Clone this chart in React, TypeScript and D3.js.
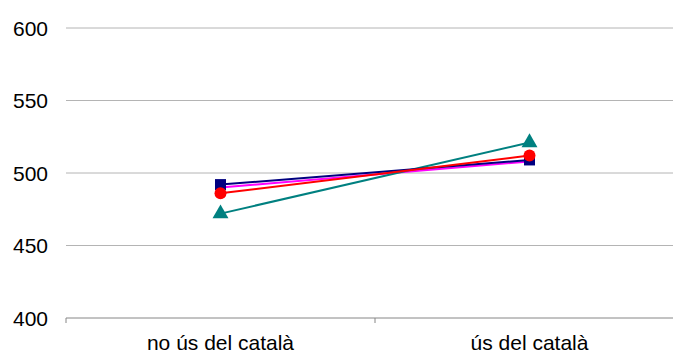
import React from "react";
import * as d3 from "d3";

const categories = ["no ús del català", "ús del català"];
const yTicks = [400, 450, 500, 550, 600];
const seriesNavy = [492, 509];
const seriesMagenta = [490, 508];
const seriesRed = [486, 512];
const seriesTeal = [472, 521];

const W = 673, H = 354;

export default function App() {
  const x = d3.scaleBand<string>().domain(categories).range([66, 684]);
  const y = d3.scaleLinear().domain([400, 600]).range([318, 28]);
  const cx = (c: string) => (x(c) as number) + x.bandwidth() / 2;
  const line = d3.line<number>().x((_, i) => cx(categories[i])).y((d) => y(d));
  const series = [
    { vals: seriesMagenta, color: "#ff00ff", marker: "none" },
    { vals: seriesTeal, color: "#008080", marker: "tri" },
    { vals: seriesNavy, color: "#000080", marker: "sq" },
    { vals: seriesRed, color: "#ff0000", marker: "circ" },
  ];
  const tri = d3.symbol().type(d3.symbolTriangle).size(110)();
  return (
    <svg width={W} height={H} style={{ position: "absolute", left: 0, top: 0 }}
      fontFamily="'Liberation Sans', Arial, sans-serif">
      {yTicks.map((t) => (
        <g key={t}>
          {t !== 400 && <line x1={66} x2={W} y1={y(t)} y2={y(t)} stroke="#b4b4b4" strokeWidth={1} />}
          <text x={48} y={y(t) + 7.5} textAnchor="end" fontSize={21} fill="#000">{t}</text>
        </g>
      ))}
      <line x1={66} x2={W} y1={y(400)} y2={y(400)} stroke="#868686" />
      {[0, 1].map((i) => (
        <line key={i} x1={66 + i * x.bandwidth()} x2={66 + i * x.bandwidth()} y1={y(400)} y2={y(400) + 5} stroke="#868686" />
      ))}
      {categories.map((c) => (
        <text key={c} x={cx(c)} y={350} textAnchor="middle" fontSize={21} fill="#000">{c}</text>
      ))}
      {series.map((s, k) => (
        <g key={k}>
          <path d={line(s.vals) as string} fill="none" stroke={s.color} strokeWidth={2} />
          {s.vals.map((v, i) => {
            const px = cx(categories[i]), py = y(v);
            if (s.marker === "sq") return <rect key={i} x={px - 5.5} y={py - 5.5} width={11} height={11} fill={s.color} />;
            if (s.marker === "circ") return <circle key={i} cx={px} cy={py} r={6} fill={s.color} />;
            if (s.marker === "tri") return <path key={i} d={tri as string} transform={`translate(${px},${py})`} fill={s.color} />;
            return null;
          })}
        </g>
      ))}
    </svg>
  );
}
